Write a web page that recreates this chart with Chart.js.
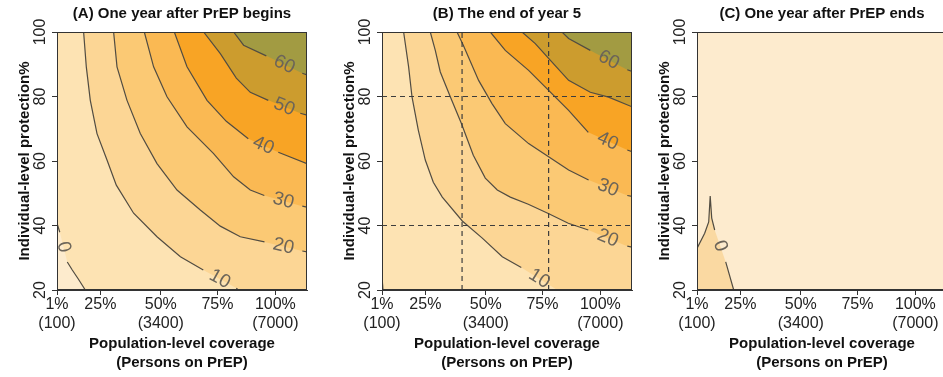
<!DOCTYPE html>
<html><head><meta charset="utf-8">
<script src="https://cdn.jsdelivr.net/npm/chart.js@4.4.0/dist/chart.umd.min.js"></script>
<style>
html,body{margin:0;padding:0;background:#fff;overflow:hidden;width:943px;height:377px;position:relative;}
canvas{position:absolute;top:0;}
</style></head><body>
<canvas id="cA" width="330" height="377" style="left:0px"></canvas>
<canvas id="cB" width="330" height="377" style="left:325px"></canvas>
<canvas id="cC" width="330" height="377" style="left:640px"></canvas>
<script>
// ---------- data ----------
const panelTitles = ["(A) One year after PrEP begins", "(B) The end of year 5", "(C) One year after PrEP ends"];
const xTitleLines = ["Population-level coverage", "(Persons on PrEP)"];
const yTitle = "Individual-level protection%";
const xRange = [100, 8000];          // persons on PrEP
const yRange = [20, 100];            // individual-level protection %
const xTickValues = [100, 1470, 3380, 5170, 7000];
const xTickLabels = [["1%", "(100)"], "25%", ["50%", "(3400)"], "75%", ["100%", "(7000)"]];
const yTickValues = [20, 40, 60, 80, 100];

// contour lines: [persons, protection]; null marks the gap where the level label sits
const contourA0  = [[100,40.7],[188,37.9],null,[425,28.7],[583,26.2],[773,23.4],[994,20]];
const contourA10 = [[941,100],[1026,89.2],[1152,78.8],[1364,68.5],[1680,60.3],[1974,52.5],[2521,43.8],[3260,36.5],[4000,30.3],[4723,26.2],null,[5766,20.6],[5829,20]];
const contourA20 = [[1889,100],[1996,89.2],[2312,78.8],[2732,68.5],[3260,59.2],[3892,51.0],[4628,44.8],[5260,39.8],[5892,36.5],[6657,34.9],null,[7851,32.1],[8000,31.8]];
const contourA30 = [[2859,100],[3153,89.2],[3576,79.9],[4208,70.6],[5049,62.3],[5681,55.1],[6208,51.0],[6651,49.3],null,[7851,46.0],[8000,45.7]];
const contourA40 = [[3807,100],[4208,89.2],[4840,78.8],[5450,72.3],[6145,66.9],null,[7093,62.7],[8000,59.2]];
const contourA50 = [[4733,100],[5261,93.3],[5766,85.7],[6208,81.3],[6777,78.8],null,[7788,74.8],[8000,74.2]];
const contourA60 = [[5681,100],[5997,95.9],[6714,92.6],null,[7851,87.2],[8000,86.7]];

const contourB0  = [[100,24.1],[132,20]];
const contourB10 = [[783,100],[941,89.2],[1048,79.9],[1247,69.6],[1468,60.3],[1721,53.4],[2005,48.8],[2637,41.4],[3269,36.1],[3901,30.3],[4502,27.0],null,[5640,20]];
const contourB20 = [[1626,100],[1784,94.3],[1942,87.6],[2258,79.9],[2606,71.7],[2985,61.8],[3364,54.7],[3743,51.0],[4154,48.8],[4723,46.6],[5355,43.7],[5987,40.7],[6619,38.6],null,[7851,33.6],[8000,33.3]];
const contourB30 = [[2470,100],[2669,95.9],[3153,85.0],[3576,77.8],[3996,71.6],[4733,65.4],[5365,61.3],[5997,57.2],[6629,54.1],null,[7851,49.3],[8000,49.0]];
const contourB40 = [[3522,100],[3996,94.3],[4733,88.1],[5365,81.9],[5997,75.7],[6619,68.9],null,[7851,63.4],[8000,62.9]];
const contourB50 = [[4524,100],[4944,96.4],[5365,91.8],[5997,85.0],[6682,81.3],[7261,79.8],[8000,76.8]];
const contourB60 = [[5788,100],[5997,98.0],[6682,94.3],null,[7851,88.3],[8000,87.8]];

const contourC0  = [[100,32.9],[343,37.6],[470,41.1],[517,49.1],[565,42.3],[659,38.6],null,[1007,28.7],[1260,20]];

const refLinesX = [2630, 5365];   // dashed reference lines, panel B
const refLinesY = [40, 80];

// ---------- styles ----------
const FONT = '"Liberation Sans", Arial, Helvetica, sans-serif';
const colNeg = '#FDEBCD', col0 = '#FDE3B3', col10 = '#FCD695', col20 = '#FBC974',
      col30 = '#FAB953', col40 = '#F8A425', col50 = '#CC9C2E', col60 = '#A29B42';
const colCneg = '#FDEBCE', colCpos = '#FAD9A2';
const lineColor = '#514c42';

// ---------- helpers ----------
const toXY = pts => pts.map(p => p ? {x: p[0], y: p[1]} : {x: null, y: null});
const solid = pts => pts.filter(p => p);
const X0 = xRange[0], X1 = xRange[1], Y0 = yRange[0], Y1 = yRange[1];
const fullRect = [[X0,Y0],[X1,Y0],[X1,Y1],[X0,Y1]];

const labelPlugin = {
  id: 'contourLabels',
  afterDatasetsDraw(chart) {
    const ctx = chart.ctx, xs = chart.scales.x, ys = chart.scales.y;
    chart.data.datasets.forEach(ds => {
      if (!ds.levelLabel) return;
      const d = ds.data;
      const gi = d.findIndex(p => p.y === null);
      if (gi < 1 || gi >= d.length - 1) return;
      const a = d[gi - 1], b = d[gi + 1];
      const ax = xs.getPixelForValue(a.x), ay = ys.getPixelForValue(a.y);
      const bx = xs.getPixelForValue(b.x), by = ys.getPixelForValue(b.y);
      let ang = Math.atan2(by - ay, bx - ax);
      if (ang > Math.PI / 2) ang -= Math.PI;
      if (ang < -Math.PI / 2) ang += Math.PI;
      ctx.save();
      ctx.translate((ax + bx) / 2, (ay + by) / 2);
      ctx.rotate(ang);
      ctx.font = '19px ' + FONT;
      ctx.fillStyle = '#6b6459';
      ctx.textAlign = 'center';
      ctx.textBaseline = 'middle';
      ctx.fillText(ds.levelLabel, 0, 0);
      ctx.restore();
    });
  }
};
const boxPlugin = {
  id: 'plotBox',
  afterDraw(chart) {
    const {ctx, chartArea: a} = chart;
    ctx.save();
    ctx.strokeStyle = '#333';
    ctx.lineWidth = 1;
    ctx.strokeRect(a.left + 0.5, a.top + 0.5, a.right - a.left - 1, a.bottom - a.top - 1);
    ctx.restore();
  }
};

function makeChart(id, title, bands, contours, dashed) {
  const datasets = [];
  bands.forEach((b, i) => datasets.push({
    data: toXY(b.poly), fill: 'shape', backgroundColor: b.color,
    borderColor: 'rgba(0,0,0,0)', borderWidth: 0, pointRadius: 0, order: 1000 - i
  }));
  contours.forEach(c => datasets.push({
    data: toXY(c.pts), levelLabel: c.label, fill: false, borderColor: lineColor,
    borderWidth: 1.2, pointRadius: 0, spanGaps: false, order: 10
  }));
  if (dashed) {
    refLinesX.forEach(v => datasets.push({data: toXY([[v, Y0], [v, Y1]]), fill: false, borderColor: '#3d3d3d', borderWidth: 1.2, borderDash: [5, 4], pointRadius: 0, order: 5}));
    refLinesY.forEach(v => datasets.push({data: toXY([[X0, v], [X1, v]]), fill: false, borderColor: '#3d3d3d', borderWidth: 1.2, borderDash: [5, 4], pointRadius: 0, order: 5}));
  }
  const gridOpts = {drawOnChartArea: false, drawTicks: true, tickLength: 5, color: '#333', lineWidth: 1};
  const borderOpts = {display: true, color: '#333', width: 1};
  return new Chart(document.getElementById(id), {
    type: 'line',
    data: {datasets},
    plugins: [labelPlugin, boxPlugin],
    options: {
      responsive: false, animation: false, devicePixelRatio: 1,
      layout: {padding: {left: 0, right: 23, top: 0, bottom: 0}},
      plugins: {
        legend: {display: false}, tooltip: {enabled: false},
        title: {display: true, text: title, fullSize: false, color: '#111',
          font: {family: FONT, size: 15, weight: 'bold', lineHeight: 1.2},
          padding: {top: 5, bottom: 9}}
      },
      scales: {
        x: {
          type: 'linear', min: X0, max: X1,
          afterBuildTicks: s => { s.ticks = xTickValues.map(v => ({value: v})); },
          afterFit: s => { s.height = 87; s.paddingLeft = 0; s.paddingRight = 0; },
          ticks: {autoSkip: false, maxRotation: 0, minRotation: 0, padding: 0.75, color: '#222',
            font: {family: FONT, size: 16, lineHeight: 1.156},
            callback: (v, i) => xTickLabels[i]},
          grid: gridOpts, border: borderOpts,
          title: {display: true, text: xTitleLines, color: '#111',
            font: {family: FONT, size: 15, weight: 'bold', lineHeight: 1.267},
            padding: {top: 0, bottom: 4.5}}
        },
        y: {
          type: 'linear', min: Y0, max: Y1,
          afterBuildTicks: s => { s.ticks = yTickValues.map(v => ({value: v})); },
          afterFit: s => { s.width = 57; s.paddingTop = 0; s.paddingBottom = 0; },
          ticks: {minRotation: 90, maxRotation: 90, crossAlign: 'center', padding: -2.4, color: '#222',
            font: {family: FONT, size: 16}},
          grid: gridOpts, border: borderOpts,
          title: {display: true, text: yTitle, color: '#111',
            font: {family: FONT, size: 15, weight: 'bold', lineHeight: 1.2},
            padding: {top: 16, bottom: 0}}
        }
      }
    }
  });
}

const topRight = [[X1, Y1]];
makeChart('cA', panelTitles[0], [
  {poly: fullRect, color: col0},
  {poly: solid(contourA0).concat([[X0, Y0]]), color: colNeg},
  {poly: solid(contourA10).concat([[X1, Y0], [X1, Y1]]), color: col10},
  {poly: solid(contourA20).concat(topRight), color: col20},
  {poly: solid(contourA30).concat(topRight), color: col30},
  {poly: solid(contourA40).concat(topRight), color: col40},
  {poly: solid(contourA50).concat(topRight), color: col50},
  {poly: solid(contourA60).concat(topRight), color: col60}
], [
  {pts: contourA0, label: '0'}, {pts: contourA10, label: '10'}, {pts: contourA20, label: '20'},
  {pts: contourA30, label: '30'}, {pts: contourA40, label: '40'}, {pts: contourA50, label: '50'},
  {pts: contourA60, label: '60'}
], false);

makeChart('cB', panelTitles[1], [
  {poly: fullRect, color: col0},
  {poly: solid(contourB0).concat([[X0, Y0]]), color: colNeg},
  {poly: solid(contourB10).concat([[X1, Y0], [X1, Y1]]), color: col10},
  {poly: solid(contourB20).concat(topRight), color: col20},
  {poly: solid(contourB30).concat(topRight), color: col30},
  {poly: solid(contourB40).concat(topRight), color: col40},
  {poly: solid(contourB50).concat(topRight), color: col50},
  {poly: solid(contourB60).concat(topRight), color: col60}
], [
  {pts: contourB0, label: null}, {pts: contourB10, label: '10'}, {pts: contourB20, label: '20'},
  {pts: contourB30, label: '30'}, {pts: contourB40, label: '40'}, {pts: contourB50, label: null},
  {pts: contourB60, label: '60'}
], true);

makeChart('cC', panelTitles[2], [
  {poly: fullRect, color: colCneg},
  {poly: solid(contourC0).concat([[X0, Y0]]), color: colCpos}
], [
  {pts: contourC0, label: '0'}
], false);
</script>
</body></html>
